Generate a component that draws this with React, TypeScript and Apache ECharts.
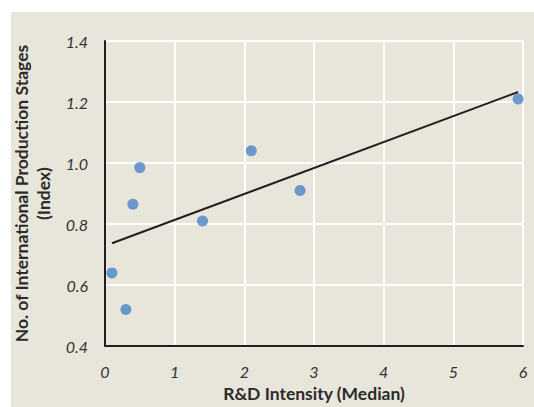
import React, { useEffect, useRef } from "react";
import * as echarts from "echarts";

const rdIntensity = [0.1, 0.3, 0.4, 0.5, 1.4, 2.1, 2.8, 5.93];
const productionStages = [0.64, 0.52, 0.865, 0.985, 0.81, 1.04, 0.91, 1.21];
const xTicks = [0, 1, 2, 3, 4, 5, 6];
const yTicks = [0.4, 0.6, 0.8, 1.0, 1.2, 1.4];

function regression(xs: number[], ys: number[]) {
  const n = xs.length;
  const mx = xs.reduce((a, b) => a + b, 0) / n;
  const my = ys.reduce((a, b) => a + b, 0) / n;
  let sxy = 0, sxx = 0;
  for (let i = 0; i < n; i++) {
    sxy += (xs[i] - mx) * (ys[i] - my);
    sxx += (xs[i] - mx) * (xs[i] - mx);
  }
  const b = sxy / sxx;
  return { a: my - b * mx, b };
}

export default function App() {
  const ref = useRef<HTMLDivElement>(null);
  useEffect(() => {
    if (!ref.current) return;
    const chart = echarts.init(ref.current, undefined, { renderer: "svg" });
    const { a, b } = regression(rdIntensity, productionStages);
    const xMin = Math.min(...rdIntensity);
    const xMax = Math.max(...rdIntensity);
    const font = "Lato";
    chart.setOption({
      animation: false,
      backgroundColor: "#ffffff",
      graphic: [
        {
          type: "rect",
          z: -10,
          silent: true,
          shape: { x: 11, y: 12, width: 523, height: 395 },
          style: { fill: "#E8E6DA" },
        },
      ],
      grid: { left: 105, top: 41, right: 11, bottom: 50, containLabel: false },
      xAxis: {
        type: "value",
        min: xTicks[0],
        max: xTicks[xTicks.length - 1],
        interval: 1,
        name: "R&D Intensity (Median)",
        nameLocation: "middle",
        nameGap: 35,
        nameTextStyle: { fontFamily: font, fontWeight: "bold", fontSize: 17.5, color: "#2b2b2b" },
        axisLine: { show: true, onZero: false, lineStyle: { color: "#231F20", width: 2 } },
        axisTick: { show: false },
        axisLabel: { fontFamily: font, fontStyle: "italic", fontSize: 16, color: "#333333", margin: 17 },
        splitLine: { show: true, lineStyle: { color: "#ffffff", width: 2 } },
      },
      yAxis: {
        type: "value",
        min: yTicks[0],
        max: yTicks[yTicks.length - 1],
        interval: 0.2,
        name: "No. of International Production Stages\n(Index)",
        nameLocation: "middle",
        nameRotate: 90,
        nameGap: 44,
        nameTextStyle: { fontFamily: font, fontWeight: "bold", fontSize: 17.5, color: "#2b2b2b", lineHeight: 22 },
        axisLine: { show: true, onZero: false, lineStyle: { color: "#231F20", width: 2 } },
        axisTick: { show: false },
        axisLabel: {
          fontFamily: font,
          fontStyle: "italic",
          fontSize: 16,
          color: "#333333",
          margin: 17,
          formatter: (v: number) => v.toFixed(1),
        },
        splitLine: { show: true, lineStyle: { color: "#ffffff", width: 2 } },
      },
      series: [
        {
          type: "line",
          data: [
            [xMin, a + b * xMin],
            [xMax, a + b * xMax],
          ],
          symbol: "none",
          lineStyle: { color: "#231F20", width: 2 },
          z: 2,
        },
        {
          type: "scatter",
          data: rdIntensity.map((x, i) => [x, productionStages[i]]),
          symbolSize: 11,
          itemStyle: { color: "#4A84C6" },
          z: 3,
        },
      ],
    });
    return () => chart.dispose();
  }, []);
  return (
    <div
      ref={ref}
      style={{ position: "absolute", left: 0, top: 0, width: 534, height: 407 }}
    />
  );
}
